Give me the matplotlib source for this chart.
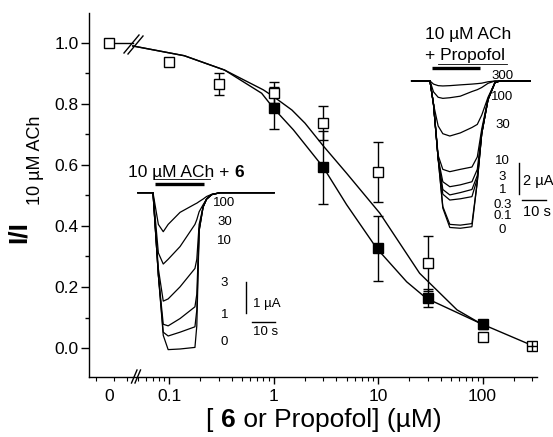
import matplotlib
matplotlib.use("Agg")
import matplotlib.pyplot as plt
from matplotlib.lines import Line2D

plt.rcParams['font.family'] = ['Liberation Sans', 'DejaVu Sans']

W, H = 553, 437

# concentration-response data (uM, I / I 10uM ACh)
prop_conc = [0.1, 0.3, 1, 3, 10, 30, 100, 300]
prop_resp = [0.937, 0.865, 0.837, 0.737, 0.578, 0.278, 0.037, 0.008]
prop_err = [0.01, 0.037, 0.035, 0.056, 0.098, 0.09, 0.01, 0.005]

six_conc = [1, 3, 10, 30, 100]
six_resp = [0.786, 0.592, 0.327, 0.163, 0.078]
six_err = [0.068, 0.12, 0.107, 0.03, 0.015]

control_resp = 1.0

# fitted curves
prop_fit_x = [0.045, 0.14, 0.34, 0.8, 1.0, 1.5, 2.0, 3.0, 5.0, 10.4, 25, 57, 95, 300]
prop_fit_y = [0.99, 0.958, 0.911, 0.846, 0.824, 0.78, 0.737, 0.662, 0.573, 0.442, 0.245, 0.125, 0.081, 0.008]
six_fit_x = [0.045, 0.14, 0.34, 0.77, 1.0, 1.55, 3.0, 5.0, 9.7, 18.8, 29, 95]
six_fit_y = [0.99, 0.958, 0.911, 0.835, 0.786, 0.715, 0.592, 0.47, 0.327, 0.217, 0.163, 0.081]

x_ticks = [0.1, 1, 10, 100]
x_ticklabels = ['0.1', '1', '10', '100']
zero_pos = 0.0267   # where "0" sits on the log axis
break_pos = 0.0452  # axis break

# current traces, inset with compound 6 (time s, current uA)
six_t = [-6.5, 0, 2.3, 4.4, 6.5, 11.6, 18, 18.8, 19.8, 21.5, 23, 25.2, 28.8, 52]
six_names = ['0', '1', '3', '10', '30', '100']
six_traces = [
    [0, 0, -2.6, -4.5, -4.95, -4.93, -4.88, -4.2, -1.2, -0.45, -0.2, -0.06, 0, 0],
    [0, 0, -2.6, -4.4, -4.52, -4.4, -4.23, -3.7, -1.2, -0.45, -0.2, -0.06, 0, 0],
    [0, 0, -2.6, -4.15, -4.2, -3.97, -3.6, -3.2, -1.15, -0.45, -0.2, -0.06, 0, 0],
    [0, 0, -2.4, -3.42, -3.35, -2.97, -2.39, -2.1, -1.0, -0.45, -0.2, -0.06, 0, 0],
    [0, 0, -1.9, -2.25, -2.1, -1.7, -1.0, -0.85, -0.6, -0.38, -0.2, -0.06, 0, 0],
    [0, 0, -1.0, -1.23, -1.0, -0.62, -0.36, -0.33, -0.28, -0.2, -0.12, -0.05, 0, 0],
]
six_name_y = [-4.72, -3.86, -2.84, -1.51, -0.92, -0.33]

# current traces, inset with propofol
prop_t = [-7.9, 0, 1.5, 3.5, 5.5, 8.5, 13, 18, 20.3, 22.2, 24.9, 27.9, 30, 42.9]
prop_names = ['0', '0.1', '0.3', '1', '3', '10', '30', '100', '300']
prop_traces = [
    [0, 0, -1.5, -5.0, -8.2, -9.45, -9.5, -9.4, -6.5, -3.4, -1.2, -0.1, 0, 0],
    [0, 0, -1.5, -5.0, -8.1, -9.25, -9.3, -9.2, -6.5, -3.4, -1.2, -0.1, 0, 0],
    [0, 0, -1.5, -5.0, -7.3, -7.68, -7.6, -7.46, -6.3, -3.4, -1.2, -0.1, 0, 0],
    [0, 0, -1.5, -5.0, -7.0, -7.35, -7.2, -7.0, -6.1, -3.4, -1.2, -0.1, 0, 0],
    [0, 0, -1.5, -5.0, -6.5, -6.82, -6.7, -6.5, -5.7, -3.3, -1.2, -0.1, 0, 0],
    [0, 0, -1.5, -4.8, -5.7, -5.85, -5.7, -5.55, -4.9, -3.1, -1.15, -0.1, 0, 0],
    [0, 0, -1.5, -2.9, -3.4, -3.55, -3.35, -3.0, -2.8, -2.2, -1.05, -0.1, 0, 0],
    [0, 0, -0.7, -1.05, -1.12, -1.08, -0.98, -0.68, -0.56, -0.42, -0.15, 0, 0, 0],
    [0, 0, -0.2, -0.3, -0.32, -0.3, -0.25, -0.2, -0.17, -0.14, -0.05, 0, 0, 0],
]
prop_name_y = [-9.61, -8.71, -8.0, -7.03, -6.17, -5.16, -2.84, -1.01, 0.32]


def px_axes(l, t, r, b):
    return fig.add_axes([l / W, 1 - b / H, (r - l) / W, (b - t) / H])


def px_line(xs, ys, lw=1.0):
    fig.add_artist(Line2D([x / W for x in xs], [1 - y / H for y in ys],
                          transform=fig.transFigure, color='black', lw=lw))


fig = plt.figure(figsize=(W / 100, H / 100), dpi=100)
ax = px_axes(89, 13, 537, 377)

ax.set_xscale('log')
ax.set_xlim(0.01716, 332)
ax.set_ylim(-0.095, 1.098)

ax.plot(prop_fit_x, prop_fit_y, color='black', lw=1.0, zorder=2)
ax.plot(six_fit_x, six_fit_y, color='black', lw=1.0, zorder=2)
ax.plot([zero_pos, break_pos], [control_resp, control_resp], color='black', lw=1.0, zorder=2)

ax.errorbar(prop_conc, prop_resp, yerr=prop_err, fmt='none', ecolor='black',
            elinewidth=1.0, capsize=3.5, capthick=1.0, zorder=3)
ax.errorbar(six_conc, six_resp, yerr=six_err, fmt='none', ecolor='black',
            elinewidth=1.0, capsize=3.5, capthick=1.0, zorder=3)
ax.plot(six_conc, six_resp, 's', ms=7.8, mfc='black', mec='black', mew=1.0, zorder=4)
ax.plot(prop_conc + [zero_pos], prop_resp + [control_resp], 's', ms=7.8,
        mfc='white', mec='black', mew=1.0, zorder=5)
ax.plot(prop_conc[-1:], prop_resp[-1:], '+', ms=7.8, mec='black', mew=1.0, zorder=6)

ax.spines['top'].set_visible(False)
ax.spines['right'].set_visible(False)
ax.spines['left'].set_linewidth(1.0)
ax.spines['bottom'].set_linewidth(1.0)

ax.set_xticks(x_ticks + [zero_pos])
ax.set_xticklabels(x_ticklabels + ['0'])
ax.set_yticks([0.0, 0.2, 0.4, 0.6, 0.8, 1.0])
ax.set_yticklabels(['0.0', '0.2', '0.4', '0.6', '0.8', '1.0'])
ax.set_yticks([0.1, 0.3, 0.5, 0.7, 0.9], minor=True)
ax.tick_params(axis='both', which='major', labelsize=12.5, width=1.0, color='black')
ax.tick_params(axis='y', which='major', length=5.8, pad=1.5)
ax.tick_params(axis='y', which='minor', length=3, width=1.0)
ax.tick_params(axis='x', which='major', length=4.8, pad=3.5)
ax.tick_params(axis='x', which='minor', length=3, width=0.8)
ax.get_xticklines()[8].set_visible(False)  # no tick under "0"
ax.get_xticklines()[9].set_visible(False)

# axis break marks
px_line([131.5, 137], [383, 370])
px_line([135, 140.5], [383, 370])
px_line([124, 139], [53, 35])
px_line([128, 143], [54, 36])

# axis labels
fig.text(18.5 / W, 1 - 232 / H, 'I/I', rotation=90, ha='center', va='center',
         fontsize=19, fontweight='bold')
fig.text(35.5 / W, 1 - 160 / H, '10 µM ACh', rotation=90, ha='center', va='center',
         fontsize=13)
xl1 = fig.text(206 / W, 1 - 427 / H, '[ ', fontsize=19, va='baseline')
xl2 = ax.annotate('6', xy=(1, 0), xycoords=xl1, va='bottom', fontsize=19,
                  fontweight='bold', annotation_clip=False)
ax.annotate(' or Propofol] (µM)', xy=(1, 0), xycoords=xl2, va='bottom',
            fontsize=19, annotation_clip=False)

# inset: ACh + compound 6
a6 = px_axes(128, 160, 285, 365)
a6.set_xlim(-10.73, 56.65)
a6.set_ylim(-5.435, 1.0315)
a6.axis('off')
for tr in six_traces:
    a6.plot(six_t, tr, color='black', lw=0.9, clip_on=False)
for name, yy in zip(six_names, six_name_y):
    a6.text(30.7, yy, name, ha='center', va='center', fontsize=9.5)
a6.plot([0.86, 21.9], [0.265, 0.265], color='black', lw=2.4, solid_capstyle='butt', clip_on=False)
a6.plot([0.5, 24.5], [0.42, 0.42], color='black', lw=0.6, clip_on=False)
tt = a6.text(-10.7, 0.486, '10 µM ACh + ', fontsize=12.5, va='baseline')
a6.annotate('6', xy=(1, 0), xycoords=tt, va='bottom', fontsize=12.5, fontweight='bold',
            annotation_clip=False)
a6.plot([39.8, 39.8], [-2.81, -3.81], color='black', lw=1.0, clip_on=False)
a6.plot([42.4, 52.4], [-4.07, -4.07], color='black', lw=1.0, clip_on=False)
a6.text(42.9, -3.51, '1 µA', fontsize=9.5, va='center')
a6.text(42.9, -4.39, '10 s', fontsize=9.5, va='center')

# inset: ACh + propofol
ap = px_axes(405, 20, 553, 240)
ap.set_xlim(-10.73, 52.79)
ap.set_ylim(-10.258, 3.935)
ap.axis('off')
for tr in prop_traces:
    ap.plot(prop_t, tr, color='black', lw=0.9, clip_on=False)
for name, yy in zip(prop_names, prop_name_y):
    ap.text(31.1, yy, name, ha='center', va='center', fontsize=9.5)
ap.text(-2.15, 2.69, '10 µM ACh', fontsize=12.5, va='baseline')
ap.text(-2.15, 1.355, '+ Propofol', fontsize=12.5, va='baseline')
ap.plot([3.6, 32.9], [1.097, 1.097], color='black', lw=0.6, clip_on=False)
ap.plot([0.7, 21.5], [0.82, 0.82], color='black', lw=2.4, solid_capstyle='butt', clip_on=False)
ap.plot([38.2, 38.2], [-5.31, -7.31], color='black', lw=1.0, clip_on=False)
ap.plot([39.3, 49.6], [-7.65, -7.65], color='black', lw=1.0, clip_on=False)
ap.text(39.9, -6.45, '2 µA', fontsize=10.5, va='center')
ap.text(39.9, -8.43, '10 s', fontsize=10.5, va='center')

fig.savefig('out.png', dpi=100, facecolor='white')
